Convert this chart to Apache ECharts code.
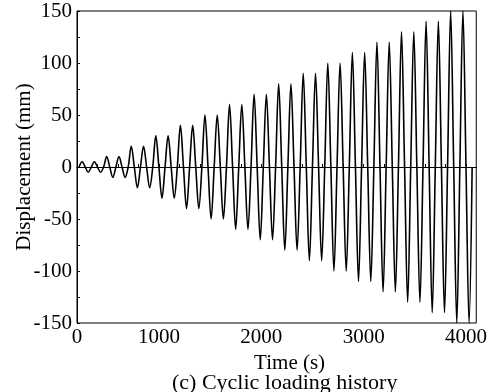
<!DOCTYPE html>
<html>
<head>
<meta charset="utf-8">
<script src="https://cdn.jsdelivr.net/npm/echarts@6/dist/echarts.min.js"></script>
<style>html,body{margin:0;padding:0;background:#fff}#c{width:490px;height:392px}</style>
</head>
<body>
<div id="c"></div>
<script>
// Amplitude (mm) of each loading level; two cycles per level
var levelAmplitudes = [5, 10, 20, 30, 40, 50, 60, 70, 80, 90, 100, 110, 120, 130, 140, 150];
var cyclesPerLevel = 2;
var startTime = 220;      // s, start of the first cycle
var cyclePeriod = 120;    // s, duration of one cycle
var xTickLabels = {200: '0', 1000: '1000', 2000: '2000', 3000: '3000', 4000: '4000'};
var yTicks = [-150, -100, -50, 0, 50, 100, 150];

// Build points: zero, peak, zero, trough for each cycle
var points = [];
var t = startTime;
points.push([t, 0]);
levelAmplitudes.forEach(function (a) {
  for (var c = 0; c < cyclesPerLevel; c++) {
    points.push([t + cyclePeriod * 0.25, a]);
    points.push([t + cyclePeriod * 0.5, 0]);
    points.push([t + cyclePeriod * 0.75, -a]);
    points.push([t + cyclePeriod, 0]);
    t += cyclePeriod;
  }
});

var font = '"Liberation Serif", "Times New Roman", serif';
var chart = echarts.init(document.getElementById('c'));
chart.setOption({
  animation: false,
  backgroundColor: '#fff',
  title: {
    text: '(c) Cyclic loading history',
    left: 172, top: 372,
    padding: 0,
    textStyle: {fontFamily: font, fontSize: 22, fontWeight: 'normal', color: '#000'}
  },
  grid: {left: 77, right: 7, top: 11, bottom: 69, show: true, borderColor: '#000', borderWidth: 1},
  xAxis: {
    type: 'value', min: 200, max: 4100, interval: 200,
    name: 'Time (s)', nameLocation: 'middle', nameGap: 30, nameMoveOverlap: false,
    nameTextStyle: {fontFamily: font, fontSize: 21, color: '#000', padding: [0, 0, 0, 26]},
    axisLine: {lineStyle: {color: '#000', width: 1}},
    axisTick: {inside: true, length: 3, lineStyle: {color: '#000'}},
    axisLabel: {
      fontFamily: font, fontSize: 21, color: '#000', margin: 4, interval: 0, showMaxLabel: false,
      formatter: function (v) { return xTickLabels[v] !== undefined ? xTickLabels[v] : ''; }
    },
    splitLine: {show: false}
  },
  yAxis: {
    type: 'value', min: -150, max: 150, interval: 50,
    name: 'Displacement (mm)', nameLocation: 'middle', nameGap: 42, nameMoveOverlap: false,
    nameTextStyle: {fontFamily: font, fontSize: 21, color: '#000'},
    axisLine: {lineStyle: {color: '#000', width: 1}},
    axisTick: {inside: true, length: 3, lineStyle: {color: '#000'}},
    minorTick: {show: true, splitNumber: 2, length: 3, lineStyle: {color: '#000'}},
    axisLabel: {
      fontFamily: font, fontSize: 21, color: '#000', margin: 5, padding: [6, 0, 0, 0],
      formatter: function (v) { return yTicks.indexOf(v) >= 0 ? String(v) : ''; }
    },
    splitLine: {show: false}
  },
  series: [{
    type: 'line',
    data: points,
    smooth: 0.35,
    showSymbol: false,
    clip: true,
    lineStyle: {color: '#000', width: 1.6},
    markLine: {
      silent: true, symbol: 'none', label: {show: false},
      lineStyle: {color: '#000', width: 1, type: 'solid'},
      data: [{yAxis: 0}]
    }
  }]
});
</script>
</body>
</html>
